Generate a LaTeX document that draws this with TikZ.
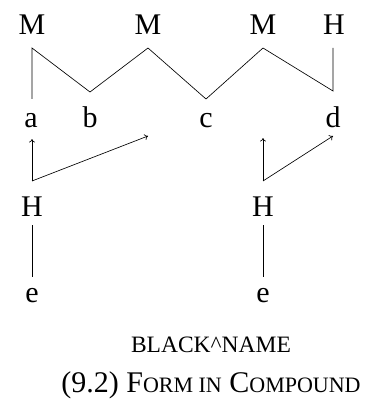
\documentclass[tikz,border=0pt]{standalone}
\usepackage{fontspec}
\setmainfont{Liberation Serif}
\usetikzlibrary{arrows.meta}
\newcommand\fsc[1]{{\fontsize{22}{26}\selectfont #1}}
\begin{document}
\begin{tikzpicture}[x=1pt,y=-1pt,
  lab/.style={anchor=base,inner sep=0pt,font=\fontsize{30}{36}\selectfont},
  capt/.style={anchor=base,inner sep=0pt,font=\fontsize{30}{36}\selectfont},
  ln/.style={line width=0.65pt},
  arr/.style={line width=0.65pt,-{To[length=3.5pt,width=6pt]}}]
\useasboundingbox (0,0) rectangle (371,401);
% tone row
\node[lab] (M1) at (32,35) {M};
\node[lab] (M2) at (148,35) {M};
\node[lab] (M3) at (263,35) {M};
\node[lab] (H1) at (334,35) {H};
% segments
\node[lab] (a) at (31,127) {a};
\node[lab] (b) at (90,127) {b};
\node[lab] (c) at (206,127) {c};
\node[lab] (d) at (333,127) {d};
% floating H
\node[lab] (HL) at (32,216) {H};
\node[lab] (HR) at (263,216) {H};
\node[lab] (eL) at (32,302) {e};
\node[lab] (eR) at (263,302) {e};
% captions
\node[capt] (cap1) at (211,352) {{\fontsize{23.5}{28}\selectfont BLACK\textasciicircum NAME}};
\node[capt] (cap2) at (211,392) {(9.2) F\fsc{ORM IN} C\fsc{OMPOUND}};
% association coordinates
\coordinate (m1) at (32,48);
\coordinate (m2) at (148,48);
\coordinate (m3) at (263,48);
\coordinate (h1) at (333,48);
\coordinate (ta) at (32,99);
\coordinate (tb) at (90,92);
\coordinate (tc) at (206,99);
\coordinate (td) at (333,91);
\draw[ln] (ta) -- (m1) -- (tb) -- (m2) -- (tc) -- (m3) -- (td) -- (h1);
% arrows
\coordinate (hl) at (32,181);
\coordinate (hr) at (263,181);
\coordinate (al) at (32,139);
\coordinate (bc) at (148,136);
\coordinate (cd) at (263,138);
\coordinate (dd) at (333,136);
\draw[arr] (hl) -- (al);
\draw[arr] (hl) -- (bc);
\draw[arr] (hr) -- (cd);
\draw[arr] (hr) -- (dd);
% H to e
\coordinate (hlb) at (32,225);
\coordinate (elt) at (32,277);
\coordinate (hrb) at (263,225);
\coordinate (ert) at (263,277);
\draw[ln] (hlb) -- (elt);
\draw[ln] (hrb) -- (ert);
\end{tikzpicture}
\end{document}
